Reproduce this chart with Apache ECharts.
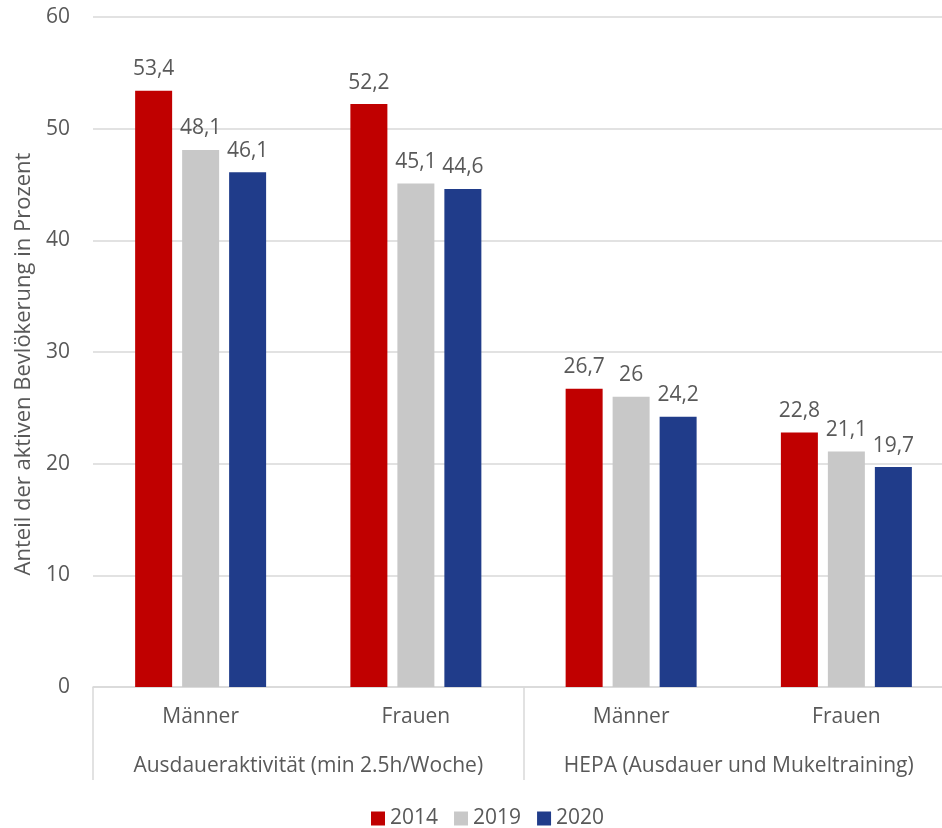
<!DOCTYPE html>
<html>
<head>
<meta charset="utf-8">
<script src="https://cdn.jsdelivr.net/npm/echarts@6/dist/echarts.min.js"></script>
<style>html,body{margin:0;padding:0;background:#fff;overflow:hidden;width:942px;height:828px}#c{width:960px;height:828px}</style>
</head>
<body>
<div id="c"></div>
<script>
const categories = ['Männer', 'Frauen', 'Männer', 'Frauen'];
const groups = ['Ausdaueraktivität (min 2.5h/Woche)', 'HEPA (Ausdauer und Mukeltraining)'];
const seriesNames = ['2014', '2019', '2020'];
const values2014 = [53.4, 52.2, 26.7, 22.8];
const values2019 = [48.1, 45.1, 26, 21.1];
const values2020 = [46.1, 44.6, 24.2, 19.7];
const yTicks = { min: 0, max: 60, interval: 10 };
const colors = ['#C00000', '#C8C8C8', '#203C8A'];

const font = '"Open Sans", sans-serif';
const txt = '#595959';
const chart = echarts.init(document.getElementById('c'), null, { renderer: 'canvas' });
const mk = (name, data, color) => ({
  name, type: 'bar', data, barWidth: 37, barGap: '27%',
  itemStyle: { color },
  label: {
    show: true, position: 'top', distance: 11,
    color: txt, fontFamily: font, fontSize: 21,
    formatter: p => String(p.value).replace('.', ',')
  }
});
chart.setOption({
  animation: false,
  textStyle: { fontFamily: font },
  grid: { left: 93, top: 17, width: 861, height: 670, containLabel: false },
  legend: {
    data: seriesNames, top: 803, left: 366,
    icon: 'rect', itemWidth: 14, itemHeight: 14, itemGap: 16,
    textStyle: { color: txt, fontSize: 21, fontFamily: font }
  },
  xAxis: [
    {
      type: 'category', data: categories, position: 'bottom',
      axisLine: { show: true, lineStyle: { color: '#D9D9D9', width: 1.5 } },
      axisTick: { show: false },
      axisLabel: { color: txt, fontSize: 21, fontFamily: font, margin: 20 }
    },
    {
      type: 'category', data: groups, position: 'bottom',
      axisLine: { show: false },
      axisTick: { show: true, length: 93, interval: 0, lineStyle: { color: '#D9D9D9', width: 1.5 } },
      axisLabel: { color: txt, fontSize: 21, fontFamily: font, margin: 69, interval: 0 }
    }
  ],
  yAxis: {
    type: 'value', min: yTicks.min, max: yTicks.max, interval: yTicks.interval,
    name: 'Anteil der aktiven Bevlökerung in Prozent', nameLocation: 'middle', nameGap: 51,
    nameTextStyle: { color: txt, fontSize: 22, fontFamily: font, padding: [0, 24, 0, 0] },
    axisLine: { show: false }, axisTick: { show: false },
    axisLabel: { color: txt, fontSize: 21, fontFamily: font, margin: 23 },
    splitLine: { lineStyle: { color: '#D9D9D9', width: 1.5 } }
  },
  series: [
    mk(seriesNames[0], values2014, colors[0]),
    mk(seriesNames[1], values2019, colors[1]),
    mk(seriesNames[2], values2020, colors[2])
  ]
});
</script>
</body>
</html>
